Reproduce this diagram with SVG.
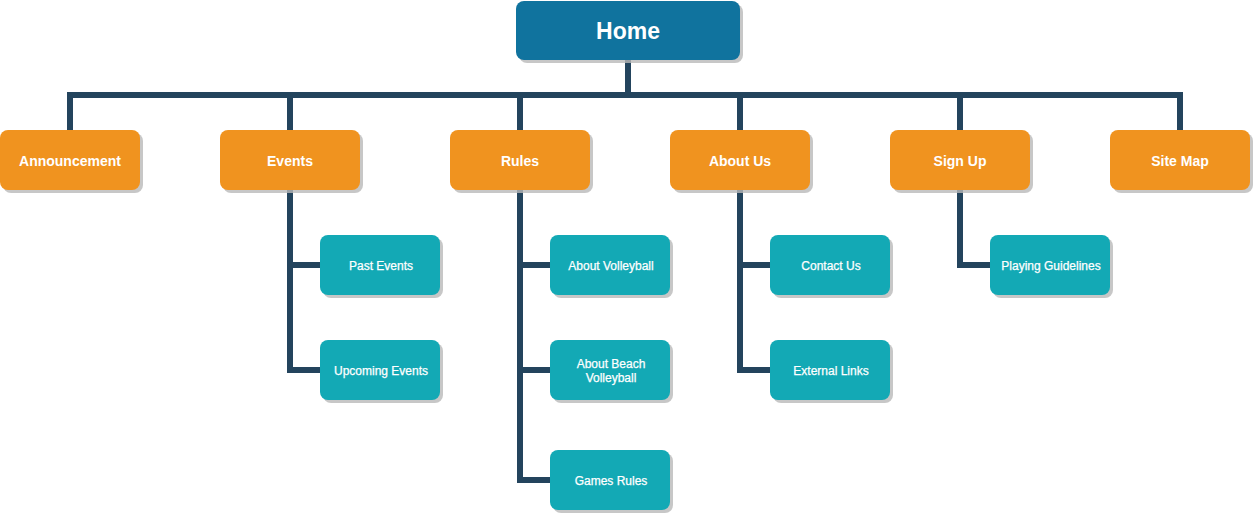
<svg xmlns="http://www.w3.org/2000/svg" width="1254" height="515" viewBox="0 0 1254 515">
<defs>
<style>
.sh{fill:#b9b9b9;opacity:0.8}
.home{fill:#10739e}
.l1{fill:#f0931f}
.l2{fill:#13a9b5}
.c{fill:none;stroke:#23445d;stroke-width:6;stroke-linejoin:miter}
text{fill:#ffffff;font-family:"Liberation Sans",Arial,sans-serif;text-anchor:middle;dominant-baseline:central}
.t0{font-size:23px;font-weight:bold}
.t1{font-size:14px;font-weight:bold}
.t2{font-size:12px;stroke:#ffffff;stroke-width:0.25}
</style>
</defs>
<rect width="1254" height="515" fill="#ffffff"/>
<g id="connectors">
<path class="c" d="M628 60V95M70 130V95H1180V130M290 95V130M520 95V130M740 95V130M960 95V130"/>
<path class="c" d="M290 190V370H320M290 265H320"/>
<path class="c" d="M520 190V480H550M520 265H550M520 370H550"/>
<path class="c" d="M740 190V370H770M740 265H770"/>
<path class="c" d="M960 190V265H990"/>
</g>
<g id="home"><rect class="sh" x="519" y="4" width="224" height="59" rx="8"/><rect class="home" x="516" y="1" width="224" height="59" rx="8"/><text class="t0" x="628" y="31">Home</text></g>
<g id="announcement"><rect class="sh" x="3" y="133" width="140" height="60" rx="8"/><rect class="l1" x="0" y="130" width="140" height="60" rx="8"/><text class="t1" x="70" y="161">Announcement</text></g>
<g id="events"><rect class="sh" x="223" y="133" width="140" height="60" rx="8"/><rect class="l1" x="220" y="130" width="140" height="60" rx="8"/><text class="t1" x="290" y="161">Events</text></g>
<g id="rules"><rect class="sh" x="453" y="133" width="140" height="60" rx="8"/><rect class="l1" x="450" y="130" width="140" height="60" rx="8"/><text class="t1" x="520" y="161">Rules</text></g>
<g id="about-us"><rect class="sh" x="673" y="133" width="140" height="60" rx="8"/><rect class="l1" x="670" y="130" width="140" height="60" rx="8"/><text class="t1" x="740" y="161">About Us</text></g>
<g id="sign-up"><rect class="sh" x="893" y="133" width="140" height="60" rx="8"/><rect class="l1" x="890" y="130" width="140" height="60" rx="8"/><text class="t1" x="960" y="161">Sign Up</text></g>
<g id="site-map"><rect class="sh" x="1113" y="133" width="140" height="60" rx="8"/><rect class="l1" x="1110" y="130" width="140" height="60" rx="8"/><text class="t1" x="1180" y="161">Site Map</text></g>
<g id="past-events"><rect class="sh" x="323" y="238" width="120" height="60" rx="8"/><rect class="l2" x="320" y="235" width="120" height="60" rx="8"/><text class="t2" x="381" y="266">Past Events</text></g>
<g id="upcoming-events"><rect class="sh" x="323" y="343" width="120" height="60" rx="8"/><rect class="l2" x="320" y="340" width="120" height="60" rx="8"/><text class="t2" x="381" y="371">Upcoming Events</text></g>
<g id="about-volleyball"><rect class="sh" x="553" y="238" width="120" height="60" rx="8"/><rect class="l2" x="550" y="235" width="120" height="60" rx="8"/><text class="t2" x="611" y="266">About Volleyball</text></g>
<g id="about-beach-volleyball"><rect class="sh" x="553" y="343" width="120" height="60" rx="8"/><rect class="l2" x="550" y="340" width="120" height="60" rx="8"/><text class="t2" x="611" y="364">About Beach</text><text class="t2" x="611" y="378">Volleyball</text></g>
<g id="games-rules"><rect class="sh" x="553" y="453" width="120" height="60" rx="8"/><rect class="l2" x="550" y="450" width="120" height="60" rx="8"/><text class="t2" x="611" y="481">Games Rules</text></g>
<g id="contact-us"><rect class="sh" x="773" y="238" width="120" height="60" rx="8"/><rect class="l2" x="770" y="235" width="120" height="60" rx="8"/><text class="t2" x="831" y="266">Contact Us</text></g>
<g id="external-links"><rect class="sh" x="773" y="343" width="120" height="60" rx="8"/><rect class="l2" x="770" y="340" width="120" height="60" rx="8"/><text class="t2" x="831" y="371">External Links</text></g>
<g id="playing-guidelines"><rect class="sh" x="993" y="238" width="120" height="60" rx="8"/><rect class="l2" x="990" y="235" width="120" height="60" rx="8"/><text class="t2" x="1051" y="266">Playing Guidelines</text></g>
</svg>
